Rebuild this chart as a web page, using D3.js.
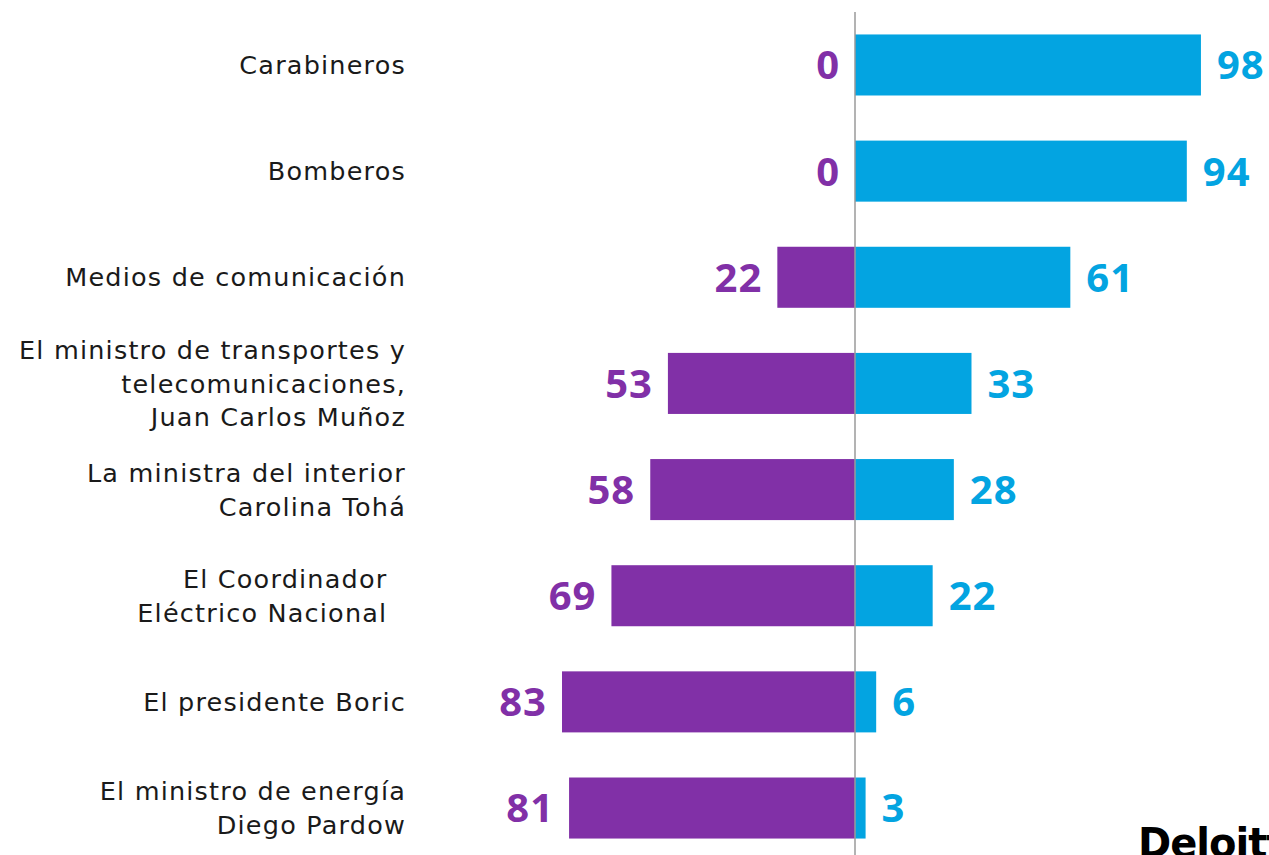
<!DOCTYPE html>
<html>
<head>
<meta charset="utf-8">
<script src="https://cdn.jsdelivr.net/npm/d3@7"></script>
<style>
  html, body { margin: 0; padding: 0; background: #fff; overflow: hidden; }
  svg { display: block; }
</style>
</head>
<body>
<svg id="chart" width="1269" height="855"></svg>
<script>
// Row labels (each entry is one row; inner arrays are the text lines)
const categories = [
  ["Carabineros"],
  ["Bomberos"],
  ["Medios de comunicación"],
  ["El ministro de transportes y", "telecomunicaciones,", "Juan Carlos Muñoz"],
  ["La ministra del interior", "Carolina Tohá"],
  ["El Coordinador\u00a0\u00a0", "Eléctrico Nacional\u00a0\u00a0"],
  ["El presidente Boric"],
  ["El ministro de energía", "Diego Pardow"]
];
// Negative side (purple) and positive side (blue)
const negativeValues = [0, 0, 22, 53, 58, 69, 83, 81];
const positiveValues = [98, 94, 61, 33, 28, 22, 6, 3];

const PURPLE = "#8130A7";
const BLUE = "#03A4E1";

const svg = d3.select("#chart");
const W = 1269, H = 855;
const center = 855;
const unit = 3.53;

const x = d3.scaleLinear()
  .domain([-100, 100])
  .range([center - 100 * unit, center + 100 * unit]);

const idx = d3.range(categories.length);
const y = d3.scaleBand()
  .domain(idx)
  .range([11.9, 861.1])
  .paddingInner(0.425)
  .paddingOuter(0.2125);

const rows = idx.map(i => ({
  i,
  label: categories[i],
  neg: negativeValues[i],
  pos: positiveValues[i]
}));

// Purple bars extend left from the center line
svg.append("g").selectAll("rect")
  .data(rows.filter(d => d.neg > 0))
  .join("rect")
  .attr("x", d => x(-d.neg))
  .attr("y", d => y(d.i))
  .attr("width", d => x(0) - x(-d.neg))
  .attr("height", y.bandwidth())
  .attr("fill", PURPLE);

// Blue bars extend right from the center line
svg.append("g").selectAll("rect")
  .data(rows.filter(d => d.pos > 0))
  .join("rect")
  .attr("x", x(0))
  .attr("y", d => y(d.i))
  .attr("width", d => x(d.pos) - x(0))
  .attr("height", y.bandwidth())
  .attr("fill", BLUE);

// Center line
svg.append("line")
  .attr("x1", x(0)).attr("x2", x(0))
  .attr("y1", 12).attr("y2", H)
  .attr("stroke", "#9a9a9a")
  .attr("stroke-width", 1.5);

const valueFont = "'Open Sans', sans-serif";

function valueText(sel) {
  return sel
    .attr("y", d => y(d.i) + y.bandwidth() / 2)
    .attr("dy", "0.36em")
    .attr("font-family", valueFont)
    .attr("font-weight", 700)
    .attr("font-size", 40)
    .attr("letter-spacing", 1);
}

// Value labels, negative side
svg.append("g").selectAll("text")
  .data(rows)
  .join("text")
  .call(valueText)
  .attr("x", d => x(-d.neg) - 15)
  .attr("text-anchor", "end")
  .attr("fill", PURPLE)
  .text(d => d.neg);

// Value labels, positive side
svg.append("g").selectAll("text")
  .data(rows)
  .join("text")
  .call(valueText)
  .attr("x", d => x(d.pos) + 16)
  .attr("text-anchor", "start")
  .attr("fill", BLUE)
  .text(d => d.pos);

// Category labels, right-aligned
const lineGap = 33.5;
const labels = svg.append("g").selectAll("text")
  .data(rows)
  .join("text")
  .attr("text-anchor", "end")
  .attr("font-family", "'DejaVu Sans', sans-serif")
  .attr("font-size", 25.5)
  .attr("letter-spacing", 1.2)
  .attr("fill", "#1a1a1a")
  .style("white-space", "pre");

labels.each(function(d) {
  const n = d.label.length;
  const cy = y(d.i) + y.bandwidth() / 2;
  d3.select(this).selectAll("tspan")
    .data(d.label)
    .join("tspan")
    .attr("x", 406)
    .attr("y", (t, k) => cy + (k - (n - 1) / 2) * lineGap)
    .attr("dy", "0.36em")
    .text(t => t);
});

// Brand mark in the corner
svg.append("text")
  .attr("x", 1138)
  .attr("y", 857)
  .attr("font-family", "'DejaVu Sans', sans-serif")
  .attr("font-weight", 700)
  .attr("font-size", 40)
  .attr("letter-spacing", -1)
  .attr("fill", "#000")
  .text("Deloitte.");
</script>
</body>
</html>
